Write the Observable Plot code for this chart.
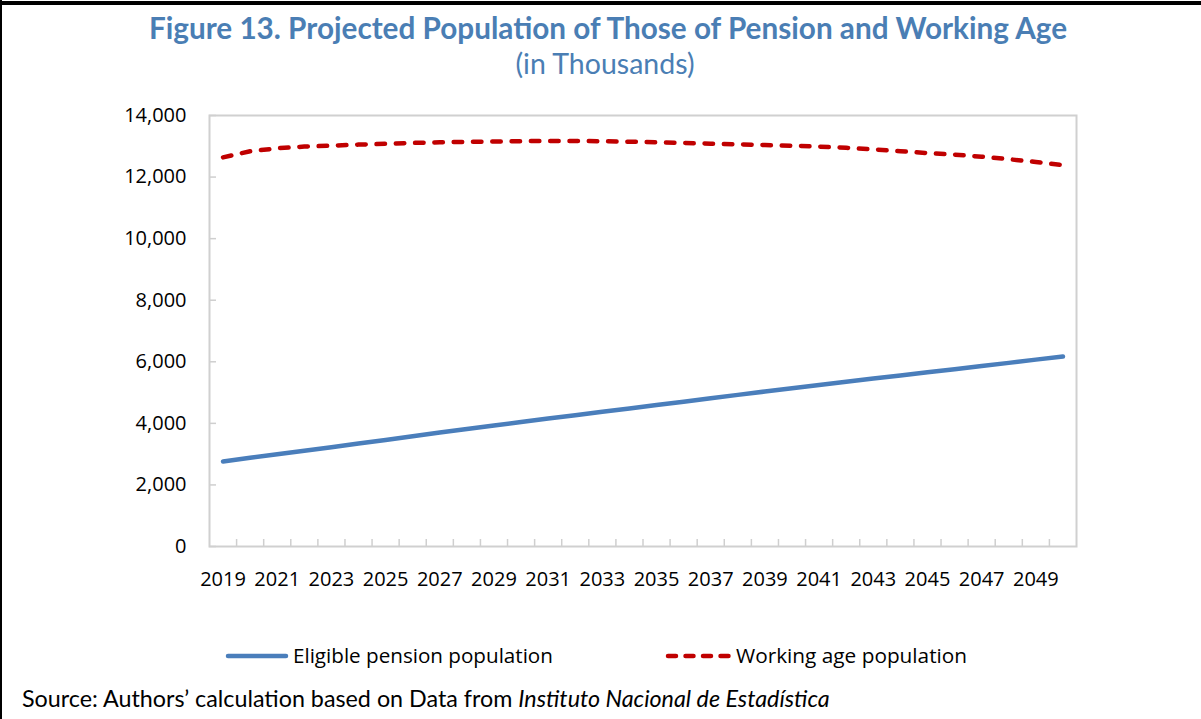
<!DOCTYPE html>
<html>
<head>
<meta charset="utf-8">
<script src="https://cdn.jsdelivr.net/npm/d3@7"></script>
<script src="https://cdn.jsdelivr.net/npm/@observablehq/plot@0.6"></script>
<style>
  html, body { margin: 0; padding: 0; background: #fff; }
  #wrap { position: relative; width: 1201px; height: 719px; overflow: hidden; background: #fff; }
  #wrap > svg { position: absolute; left: 0; top: 0; }
  #overlay { pointer-events: none; }
</style>
</head>
<body>
<div id="wrap">
  <div id="chart"></div>
  <svg id="overlay" width="1201" height="719" xmlns="http://www.w3.org/2000/svg">
    <rect x="0" y="0" width="2" height="719" fill="#000"></rect>
    <rect x="0" y="1" width="1201" height="4" fill="#000"></rect>
    <text id="title" x="608" y="39" text-anchor="middle" font-family="Lato" font-weight="bold" font-size="26" fill="#4a7eb4" data-w="918">Figure 13. Projected Population of Those of Pension and Working Age</text>
    <text id="subtitle" x="605" y="74" text-anchor="middle" font-family="Lato" font-size="24" fill="#4a7eb4" data-w="179">(in Thousands)</text>
    <line x1="228" y1="656" x2="286" y2="656" stroke="#4a7ebb" stroke-width="4.5" stroke-linecap="round"></line>
    <text id="leg1" x="293" y="663" font-family="Open Sans" font-size="19" fill="#000" data-w="260">Eligible pension population</text>
    <line x1="668" y1="656" x2="730" y2="656" stroke="#c00000" stroke-width="4.5" stroke-linecap="round" stroke-dasharray="8 9.5"></line>
    <text id="leg2" x="736" y="663" font-family="Open Sans" font-size="19" fill="#000" data-w="231">Working age population</text>
    <text id="source" x="22" y="707" font-family="Lato" font-size="19" fill="#000" data-w="808">Source: Authors’ calculation based on Data from <tspan font-style="italic">Instituto Nacional de Estadística</tspan></text>
  </svg>
</div>
<script>
// ---- data (thousands) ----
const years = [2019, 2020, 2021, 2022, 2023, 2024, 2025, 2026, 2027, 2028, 2029, 2030,
               2031, 2032, 2033, 2034, 2035, 2036, 2037, 2038, 2039, 2040, 2041, 2042,
               2043, 2044, 2045, 2046, 2047, 2048, 2049, 2050];
const pension = [2760, 2880, 2995, 3110, 3225, 3345, 3460, 3580, 3700, 3815, 3930, 4045,
                 4155, 4265, 4375, 4485, 4595, 4705, 4815, 4925, 5035, 5140, 5245, 5350,
                 5455, 5555, 5660, 5760, 5865, 5965, 6070, 6170];
const working = [12640, 12840, 12935, 12990, 13020, 13055, 13080, 13110, 13130, 13145, 13155, 13165,
                 13175, 13175, 13165, 13150, 13130, 13110, 13085, 13065, 13040, 13020, 12990, 12950,
                 12900, 12840, 12780, 12730, 12660, 12580, 12490, 12390];
const yTicks = [0, 2000, 4000, 6000, 8000, 10000, 12000, 14000];
const xTickLabels = [2019, 2021, 2023, 2025, 2027, 2029, 2031, 2033, 2035, 2037, 2039, 2041, 2043, 2045, 2047, 2049];

const data = years.map((year, i) => ({year, pension: pension[i], working: working[i]}));
// category boundaries (between consecutive years)
const boundaries = years.slice(0, -1).map(y => y + 0.5);

const chart = Plot.plot({
  width: 1201,
  height: 719,
  marginLeft: 209,
  marginRight: 125,
  marginTop: 115,
  marginBottom: 173,
  x: {type: "linear", domain: [years[0] - 0.5, years[years.length - 1] + 0.5]},
  y: {domain: [0, 14000]},
  style: {fontFamily: "Open Sans", fontSize: "20px", color: "#000", background: "transparent", overflow: "visible"},
  marks: [
    Plot.axisY({ticks: yTicks, tickSize: 0, tickPadding: 23, tickFormat: d3.format(","), label: null, fill: "#000", fontSize: 20}),
    Plot.axisY({ticks: yTicks, tickSize: 7, dx: 7, tickFormat: () => "", label: null, stroke: "#cfcfcf", strokeWidth: 1.5}),
    Plot.axisX({ticks: xTickLabels, tickSize: 0, tickPadding: 25, tickFormat: d => String(d), label: null, fill: "#000", fontSize: 20}),
    Plot.axisX({ticks: boundaries, tickSize: 7, dy: -7, tickFormat: () => "", label: null, stroke: "#cfcfcf", strokeWidth: 1.5}),
    Plot.frame({stroke: "#d0d0d0", strokeWidth: 2}),
    Plot.line(data, {x: "year", y: "pension", stroke: "#4a7ebb", strokeWidth: 4.5, strokeLinecap: "round", strokeLinejoin: "round"}),
    Plot.line(data, {x: "year", y: "working", stroke: "#c00000", strokeWidth: 4.5, strokeDasharray: "8.5 10.8", strokeLinecap: "round", strokeLinejoin: "round"})
  ]
});
document.getElementById("chart").appendChild(chart);

// fit overlay text widths to the reference widths
function fitAll() {
  document.querySelectorAll("#overlay text[data-w]").forEach(el => {
    const target = +el.getAttribute("data-w");
    const fs = parseFloat(el.getAttribute("font-size"));
    const w = el.getComputedTextLength();
    if (w > 0) el.setAttribute("font-size", (fs * target / w).toFixed(2));
  });
}
if (document.fonts && document.fonts.ready) document.fonts.ready.then(fitAll); else fitAll();
fitAll();
</script>
</body>
</html>
